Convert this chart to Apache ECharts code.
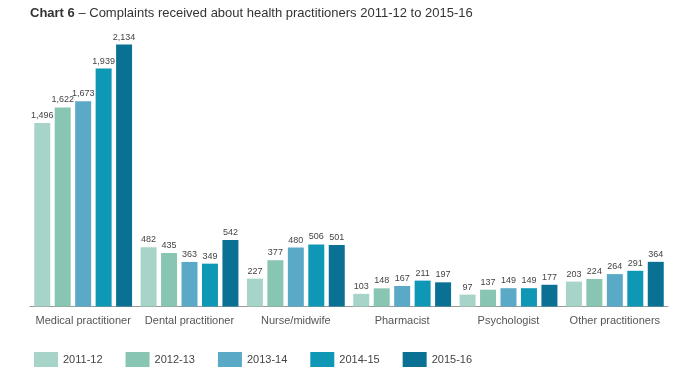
<!DOCTYPE html>
<html>
<head>
<meta charset="utf-8">
<script src="https://cdn.jsdelivr.net/npm/echarts@6/dist/echarts.min.js"></script>
<style>
  html, body { margin: 0; padding: 0; background: #fff; }
  #chart { width: 700px; height: 370px; }
</style>
</head>
<body>
<div id="chart"></div>
<script>
const categories = ['Medical practitioner', 'Dental practitioner', 'Nurse/midwife', 'Pharmacist', 'Psychologist', 'Other practitioners'];
const years = ['2011-12', '2012-13', '2013-14', '2014-15', '2015-16'];
const values2011 = [1496, 482, 227, 103, 97, 203];
const values2012 = [1622, 435, 377, 148, 137, 224];
const values2013 = [1673, 363, 480, 167, 149, 264];
const values2014 = [1939, 349, 506, 211, 149, 291];
const values2015 = [2134, 542, 501, 197, 177, 364];
const colors = ['#a6d4c8', '#88c5b2', '#5aa9c6', '#0f97b6', '#0a7094'];

const seriesValues = [values2011, values2012, values2013, values2014, values2015];
const fontFamily = '"Liberation Sans", Arial, sans-serif';

const chart = echarts.init(document.getElementById('chart'));
chart.setOption({
  animation: false,
  color: colors,
  title: {
    left: 25,
    top: 2,
    text: '{b|Chart 6} – Complaints received about health practitioners 2011-12 to 2015-16',
    textStyle: {
      fontFamily,
      fontSize: 13,
      fontWeight: 'normal',
      color: '#333',
      rich: { b: { fontFamily, fontSize: 13, fontWeight: 'bold', color: '#333' } }
    }
  },
  grid: { left: 30, right: 32, top: 36.5, bottom: 63.5 },
  legend: {
    left: 29,
    top: 347,
    itemWidth: 24,
    itemHeight: 15,
    itemGap: 23,
    icon: 'rect',
    textStyle: { fontFamily, fontSize: 11, color: '#444' },
    data: years
  },
  xAxis: {
    type: 'category',
    data: categories,
    axisLine: { lineStyle: { color: '#999' } },
    axisTick: { show: false },
    axisLabel: { interval: 0, fontFamily, fontSize: 11, color: '#555', margin: 9 }
  },
  yAxis: {
    type: 'value',
    min: 0,
    max: 2200,
    show: false,
    splitLine: { show: false }
  },
  series: seriesValues.map((vals, i) => ({
    name: years[i],
    type: 'bar',
    data: vals,
    barGap: '28%',
    barCategoryGap: '8%',
    label: {
      show: true,
      position: 'top',
      distance: 3,
      fontFamily,
      fontSize: 9,
      color: '#444',
      formatter: (p) => p.value.toLocaleString('en-US')
    }
  }))
});
</script>
</body>
</html>
